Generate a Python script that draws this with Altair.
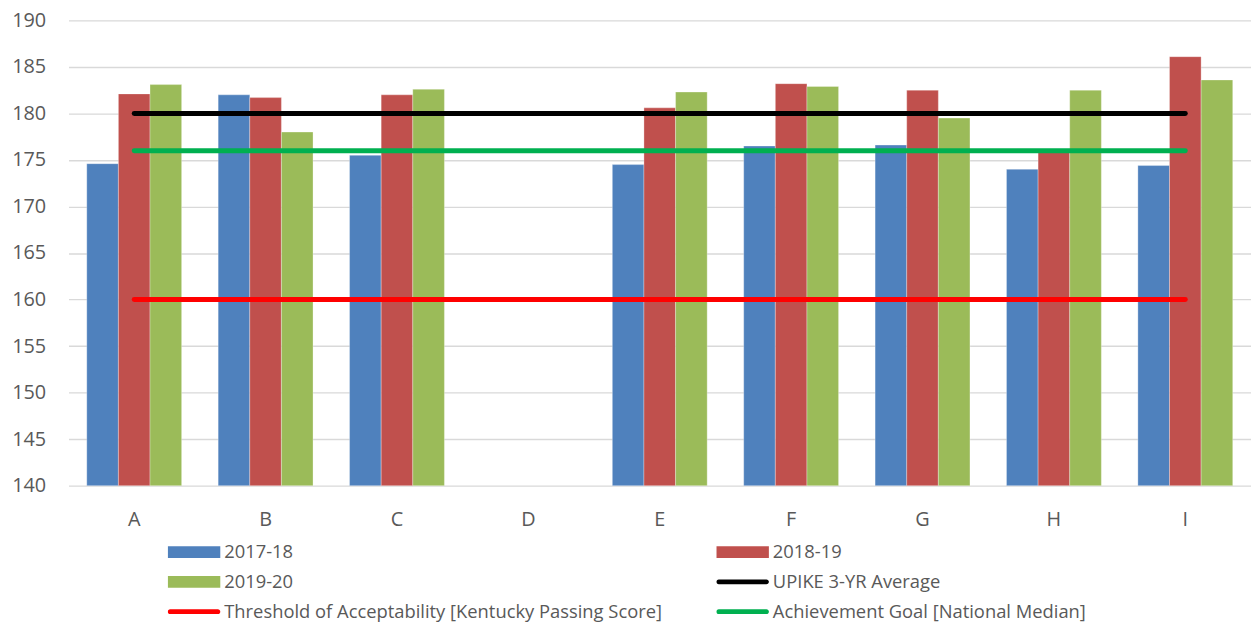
import altair as alt
import pandas as pd

categories = ["A", "B", "C", "D", "E", "F", "G", "H", "I"]
bar_series = ["2017-18", "2018-19", "2019-20"]
vals_2017_18 = [174.6, 182.0, 175.5, None, 174.5, 176.5, 176.6, 174.0, 174.4]
vals_2018_19 = [182.1, 181.7, 182.0, None, 180.6, 183.2, 182.5, 176.1, 186.1]
vals_2019_20 = [183.1, 178.0, 182.6, None, 182.3, 182.9, 179.5, 182.5, 183.6]
line_series = [
    "UPIKE 3-YR Average",
    "Threshold of Acceptability [Kentucky Passing Score]",
    "Achievement Goal [National Median]",
]
line_values = [180, 160, 176]
bar_colors = ["#4F81BD", "#C0504D", "#9BBB59"]
line_colors = ["#000000", "#FF0000", "#00B050"]

rows = []
for s, vals in zip(bar_series, [vals_2017_18, vals_2018_19, vals_2019_20]):
    for c, v in zip(categories, vals):
        if v is not None:
            rows.append({"category": c, "series": s, "value": v})
bars_df = pd.DataFrame(rows)

lrows = []
for s, v in zip(line_series, line_values):
    for c in categories:
        lrows.append({"category": c, "series": s, "value": v})
lines_df = pd.DataFrame(lrows)

domain = bar_series + line_series
rng = bar_colors + line_colors

rect_path = "M-1,-0.226H1V0.226H-1Z"
pill_path = ("M-0.906,-0.094H0.906A0.094,0.094 0 0 1 0.906,0.094"
             "H-0.906A0.094,0.094 0 0 1 -0.906,-0.094Z")
shape_expr = ("indexof(['2017-18','2018-19','2019-20'], datum.value) >= 0 ? '"
              + rect_path + "' : '" + pill_path + "'")

FONT = "Open Sans"
TXT = "#595959"

x_enc = alt.X(
    "category:N",
    sort=categories,
    scale=alt.Scale(domain=categories, paddingInner=0.278, paddingOuter=0.139),
    axis=alt.Axis(title=None, labelAngle=0, ticks=False, domain=False, grid=False,
                  labelFont=FONT, labelFontSize=20, labelColor=TXT, labelPadding=24),
)
y_scale = alt.Scale(domain=[140, 190], zero=False, nice=False)
y_axis = alt.Axis(title=None, values=list(range(140, 191, 5)), ticks=False, domain=False,
                  grid=True, gridColor="#D9D9D9", gridWidth=1.3,
                  labelFont=FONT, labelFontSize=20, labelColor=TXT, labelPadding=23)

bars = alt.Chart(bars_df).mark_bar(stroke="white", strokeWidth=0.6, strokeOpacity=0.5).encode(
    x=x_enc,
    xOffset=alt.XOffset("series:N", sort=bar_series,
                        scale=alt.Scale(domain=bar_series, paddingInner=0, paddingOuter=0)),
    y=alt.Y("value:Q", scale=y_scale, axis=y_axis),
    y2=alt.datum(140),
    color=alt.Color(
        "series:N",
        scale=alt.Scale(domain=domain, range=rng),
        legend=alt.Legend(
            title=None, orient="none", legendX=100, legendY=524, columns=2,
            direction="horizontal", clipHeight=24,
            columnPadding=54, rowPadding=6, padding=0,
            symbolType={"expr": shape_expr}, symbolSize=2809, symbolStrokeWidth=0,
            symbolOffset=0, labelOffset=4,
            labelFont=FONT, labelFontSize=18.5, labelColor=TXT, labelLimit=0,
        ),
    ),
)

lines = alt.Chart(lines_df).mark_line(strokeWidth=5, strokeCap="round").encode(
    x=alt.X("category:N", sort=categories),
    y=alt.Y("value:Q"),
    color=alt.Color("series:N", legend=None),
    detail="series:N",
)

chart = alt.layer(bars, lines).properties(
    width=1192, height=469,
    autosize=alt.AutoSizeParams(type="none"),
    padding={"left": 61, "top": 10, "right": 0, "bottom": 140},
).configure_view(stroke=None)

chart.save("out.html", embed_options={"renderer": "svg", "actions": False})
